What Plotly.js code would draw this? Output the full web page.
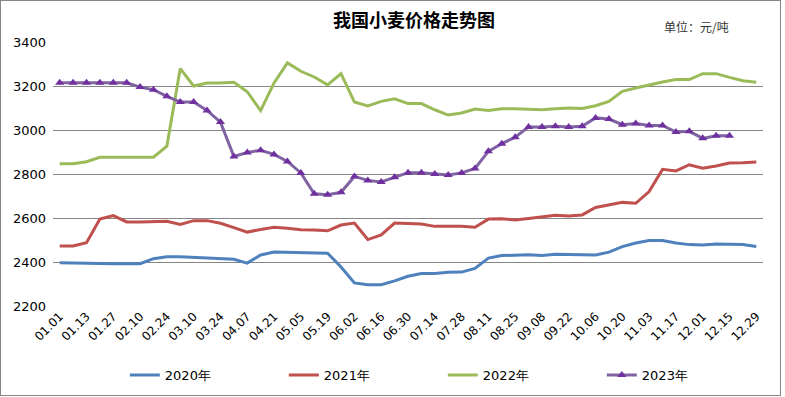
<!DOCTYPE html>
<html><head><meta charset="utf-8">
<script src="https://cdn.plot.ly/plotly-3.0.1.min.js"></script>
<style>
html,body{margin:0;padding:0;background:#fff;}
#wrap{position:relative;width:785px;height:397px;}
#chart{width:785px;height:397px;}
#frame{position:absolute;left:0;top:0;width:781px;height:396px;box-sizing:border-box;border:1px solid #868686;pointer-events:none;}
</style>
</head><body>
<div id="wrap"><div id="chart"></div><div id="frame"></div></div>
<script>
const categories = ["01.01","01.06","01.13","01.20","01.27","02.03","02.10","02.17","02.24","03.03","03.10","03.17","03.24","03.31","04.07","04.14","04.21","04.28","05.05","05.12","05.19","05.26","06.02","06.09","06.16","06.23","06.30","07.07","07.14","07.21","07.28","08.04","08.11","08.18","08.25","09.01","09.08","09.15","09.22","09.29","10.06","10.13","10.20","10.27","11.03","11.10","11.17","11.24","12.01","12.08","12.15","12.22","12.29"];
const tickLabels = ["01.01","01.13","01.27","02.10","02.24","03.10","03.24","04.07","04.21","05.05","05.19","06.02","06.16","06.30","07.14","07.28","08.11","08.25","09.08","09.22","10.06","10.20","11.03","11.17","12.01","12.15","12.29"];
const y2020 = [2397,2395,2393,2392,2392,2392,2392,2415,2424,2424,2421,2417,2412,2412,2395,2432,2445,2444,2443,2440,2440,2377,2305,2297,2297,2314,2335,2348,2348,2353,2354,2371,2418,2429,2432,2433,2430,2435,2434,2432,2432,2445,2470,2486,2498,2498,2486,2479,2477,2482,2480,2480,2470];
const y2021 = [2473,2473,2488,2595,2611,2582,2582,2583,2585,2571,2588,2588,2576,2556,2536,2548,2558,2553,2547,2545,2542,2568,2577,2502,2523,2577,2574,2573,2562,2562,2562,2558,2595,2597,2591,2598,2606,2612,2609,2614,2648,2658,2671,2667,2720,2821,2814,2842,2826,2836,2850,2851,2855];
const y2022 = [2847,2847,2856,2876,2876,2876,2876,2876,2926,3279,3200,3214,3214,3217,3174,3088,3214,3305,3267,3241,3205,3256,3127,3109,3130,3142,3120,3120,3092,3068,3077,3095,3089,3097,3097,3095,3092,3097,3100,3098,3110,3130,3176,3191,3206,3218,3229,3229,3256,3256,3239,3224,3217];
const y2023 = [3215,3215,3215,3215,3215,3215,3195,3183,3153,3127,3127,3089,3036,2880,2898,2908,2889,2857,2805,2710,2706,2717,2789,2771,2764,2785,2806,2806,2800,2796,2805,2825,2903,2938,2967,3014,3014,3017,3014,3017,3055,3050,3024,3029,3021,3021,2991,2994,2962,2974,2974,null,null];
const seriesNames = ["2020年","2021年","2022年","2023年"];
const yTicks = [2200,2400,2600,2800,3000,3200,3400];
const titleText = "我国小麦价格走势图";
const unitText = "单位：元/吨";

const font = "DejaVu Sans, Verdana, sans-serif";
const cjk = "Noto Sans CJK SC, sans-serif";

const traces = [
  {x: categories, y: y2020, name: seriesNames[0], type:'scatter', mode:'lines', line:{color:'#4F81BD', width:3}},
  {x: categories, y: y2021, name: seriesNames[1], type:'scatter', mode:'lines', line:{color:'#C0504D', width:3}},
  {x: categories, y: y2022, name: seriesNames[2], type:'scatter', mode:'lines', line:{color:'#9BBB59', width:3}},
  {x: categories, y: y2023, name: seriesNames[3], type:'scatter', mode:'lines+markers', line:{color:'#8064A2', width:3},
   marker:{symbol:'triangle-up', size:8, color:'#7030A0', line:{width:0}}}
];

const layout = {
  width: 785, height: 397,
  margin: {l:53, r:22, t:42, b:91, autoexpand:false},
  paper_bgcolor:'#fff', plot_bgcolor:'#fff',
  showlegend: true,
  font: {family: font, size: 13, color:'#000'},
  xaxis: {
    type:'category', range:[-0.5, 52.5], automargin:false,
    tickmode:'array', tickvals: tickLabels, ticktext: tickLabels,
    tickangle:-45, tickfont:{family:font, size:12, color:'#000'},
    showgrid:false, zeroline:false, showline:false, ticks:'', fixedrange:true
  },
  yaxis: {
    range:[2200,3400], tickmode:'array', tickvals: yTicks, automargin:false,
    tickfont:{family:font, size:13, color:'#000'},
    showgrid:true, gridcolor:'#868686', gridwidth:1,
    zeroline:false, showline:false, ticks:'', ticklabelstandoff:6, fixedrange:true
  },
  legend: {
    orientation:'h', xref:'container', yref:'container', x:0.159, xanchor:'left', y:0.0554, yanchor:'middle',
    font:{family:font, size:13, color:'#000'},
    entrywidth:114, entrywidthmode:'pixels', itemwidth:30, bgcolor:'rgba(0,0,0,0)'
  },
  annotations: [
    {text: titleText, xref:'paper', yref:'paper', x:0.508, y:1.087, xanchor:'center', yanchor:'middle',
     showarrow:false, font:{family:cjk, size:18, color:'#000', weight:'bold'}},
    {text: unitText, xref:'paper', yref:'paper', x:0.907, y:1.057, xanchor:'center', yanchor:'middle',
     showarrow:false, font:{family:cjk, size:12, color:'#333'}}
  ]
};

Plotly.newPlot('chart', traces, layout, {displayModeBar:false, staticPlot:true});
</script>
</body></html>
